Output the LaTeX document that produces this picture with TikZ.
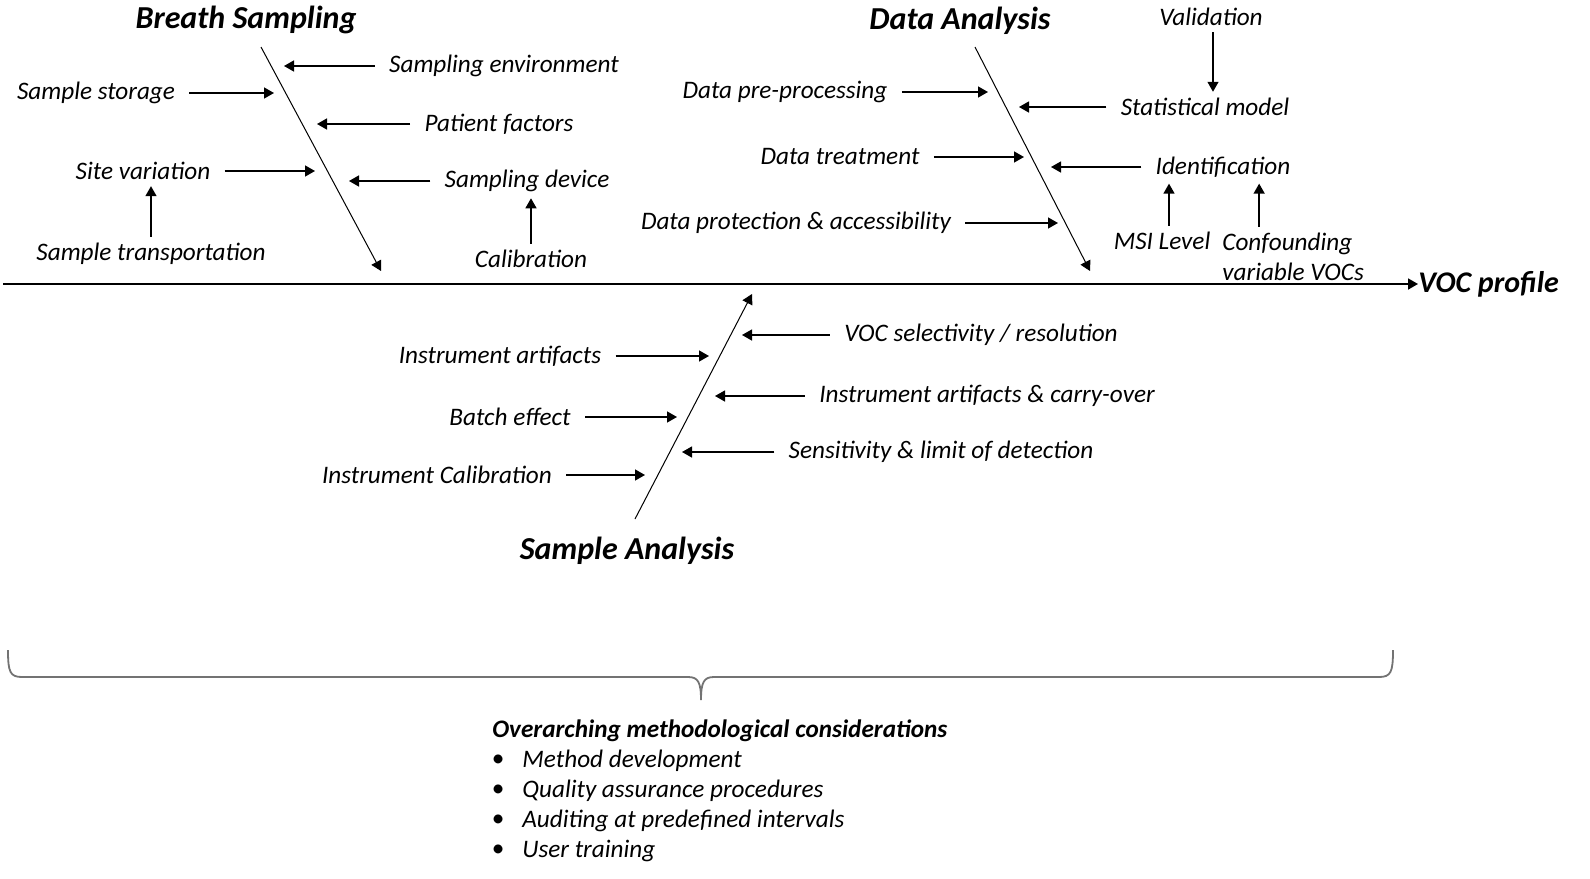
\documentclass[tikz,border=0pt]{standalone}
\usepackage{fontspec}
\setmainfont{Carlito}
\usetikzlibrary{arrows.meta}

\newcommand{\causeFont}{\fontsize{12.6}{15}\selectfont\itshape}
\newcommand{\headFont}{\fontsize{16}{19}\selectfont\bfseries\itshape}
\newcommand{\tipLen}{5pt}

\begin{document}
\begin{tikzpicture}[x=0.5pt, y=-0.5pt,
    every node/.style={font=\causeFont, inner sep=2pt},
    cause/.style={-{Triangle[length=\tipLen,width=5.5pt]}, line width=0.7pt, shorten <=5pt},
    sub/.style={-{Triangle[length=\tipLen,width=5.5pt]}, line width=0.7pt, shorten <=1pt, shorten >=1pt},
    bone/.style={-{Triangle[length=\tipLen,width=5.5pt]}, line width=0.5pt},
    spine/.style={-{Triangle[length=\tipLen,width=5.5pt]}, line width=0.9pt},
    head/.style={font=\headFont},
    brace/.style={line width=0.9pt, color=black!55}]
\useasboundingbox (0,0) rectangle (1590,878);

% spine
\node[head, anchor=west, inner sep=0pt, font=\fontsize{15}{18}\selectfont\bfseries\itshape] (voc) at (1418,284) {VOC profile};
\coordinate (spine-start) at (3,284);
\draw[spine] (spine-start) -- (voc.west);

% Breath Sampling
\node[head] (bs) at (246,20) {Breath Sampling};
\coordinate (bs-top) at (261,47);
\coordinate (bs-end) at (381,271);
\draw[bone] (bs-top) -- (bs-end);
\node (senv) at (504,66) {Sampling environment};
\node (storage) at (96,93) {Sample storage};
\node (patient) at (499,124) {Patient factors};
\node (site) at (143,171) {Site variation};
\node (device) at (527,181) {Sampling device};
\node (transport) at (151,254) {Sample transportation};
\node (calib) at (531,259) {Calibration};
\coordinate (senv-in) at (284,66);
\coordinate (storage-in) at (274,93);
\coordinate (patient-in) at (317,124);
\coordinate (site-in) at (315,171);
\coordinate (device-in) at (349,181);
\draw[cause] (senv) -- (senv-in);
\draw[cause] (storage) -- (storage-in);
\draw[cause] (patient) -- (patient-in);
\draw[cause] (site) -- (site-in);
\draw[cause] (device) -- (device-in);
\draw[sub] (transport.north) -- (transport.north |- site.south);
\draw[sub] (calib.north) -- (calib.north |- device.south);

% Data Analysis
\node[head] (da) at (960,21) {Data Analysis};
\coordinate (da-top) at (975,47);
\coordinate (da-end) at (1090,271);
\draw[bone] (da-top) -- (da-end);
\node (valid) at (1211,17) {Validation};
\node (prep) at (785,92) {Data pre-processing};
\node (stat) at (1205,107) {Statistical model};
\node (treat) at (840,157) {Data treatment};
\node (ident) at (1223,167) {Identification};
\node (protect) at (796,223) {Data protection \& accessibility};
\node (msi) at (1162,241) {MSI Level};
\node[anchor=west, align=left] (confound) at (1218,257) {Confounding\\variable VOCs};
\coordinate (prep-in) at (988,92);
\coordinate (stat-in) at (1019,107);
\coordinate (treat-in) at (1024,157);
\coordinate (ident-in) at (1051,167);
\coordinate (protect-in) at (1058,223);
\draw[cause] (prep) -- (prep-in);
\draw[cause] (stat) -- (stat-in);
\draw[cause] (treat) -- (treat-in);
\draw[cause] (ident) -- (ident-in);
\draw[cause] (protect) -- (protect-in);
\draw[sub] ([xshift=1pt]valid.south) -- ([xshift=1pt]valid.south |- stat.north);
\draw[sub] ([xshift=3.5pt]msi.north) -- ([xshift=3.5pt]msi.north |- ident.south);
\draw[sub] ([xshift=-17pt]confound.north) -- ([xshift=-17pt]confound.north |- ident.south);

% Sample Analysis
\node[head] (sa) at (627,551) {Sample Analysis};
\coordinate (sa-bot) at (635,519);
\coordinate (sa-end) at (752,294);
\draw[bone] (sa-bot) -- (sa-end);
\node (vocsel) at (981,335) {VOC selectivity / resolution};
\node (instart) at (500,356) {Instrument artifacts};
\node (carry) at (987,396) {Instrument artifacts \& carry-over};
\node (batch) at (510,417) {Batch effect};
\node (sens) at (941,452) {Sensitivity \& limit of detection};
\node (instcal) at (437,475) {Instrument Calibration};
\coordinate (vocsel-in) at (742,335);
\coordinate (instart-in) at (709,356);
\coordinate (carry-in) at (715,396);
\coordinate (batch-in) at (677,417);
\coordinate (sens-in) at (682,452);
\coordinate (instcal-in) at (645,475);
\draw[cause] (vocsel) -- (vocsel-in);
\draw[cause] (instart) -- (instart-in);
\draw[cause] (carry) -- (carry-in);
\draw[cause] (batch) -- (batch-in);
\draw[cause] (sens) -- (sens-in);
\draw[cause] (instcal) -- (instcal-in);

% overarching brace
\draw[brace] (8,650) .. controls (8,672) and (10,677) .. (22,677) -- (688,677)
  .. controls (698,677) and (701,682) .. (701,700)
  .. controls (701,682) and (704,677) .. (714,677) -- (1379,677)
  .. controls (1391,677) and (1393,672) .. (1393,650);

\node[anchor=west, font=\causeFont\bfseries] (overarch) at (488,731) {Overarching methodological considerations};
\foreach \item [count=\i] in {Method development, Quality assurance procedures,
    Auditing at predefined intervals, User training} {
  \node (bullet\i) at (498,{731+30*\i}) {\textbullet};
  \node[anchor=west] (item\i) at (518,{731+30*\i}) {\item};
}
\end{tikzpicture}
\end{document}
